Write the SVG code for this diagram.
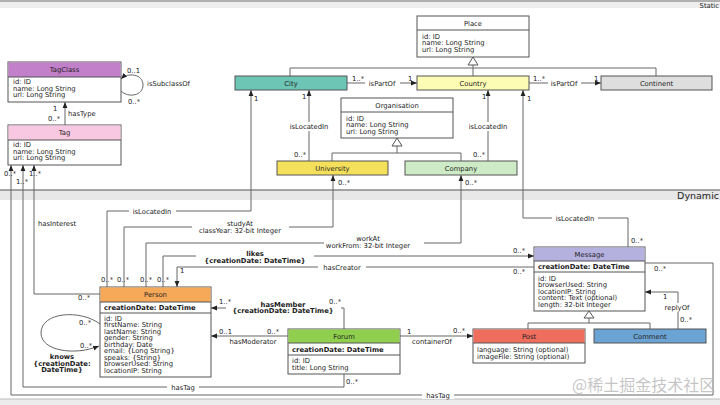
<svg xmlns="http://www.w3.org/2000/svg" width="720" height="405" viewBox="0 0 720 405">
<style>
.box{fill:#fff;stroke:#555;stroke-width:1}
.t{font-family:"DejaVu Sans","Liberation Sans",sans-serif;font-size:6.8px;fill:#222}
.b{font-weight:bold}
.c{text-anchor:middle}
.e{text-anchor:end}
.ln{fill:none;stroke:#666;stroke-width:1}
.arr{marker-end:url(#ah)}
.bg{fill:#fff}
.gen{fill:#fff;stroke:#555;stroke-width:1}
</style>
<defs>
<marker id="ah" viewBox="0 0 10 10" refX="10" refY="5" markerWidth="6" markerHeight="6" orient="auto" markerUnits="userSpaceOnUse">
<path d="M0,1 L10,5 L0,9 z" fill="#222"/>
</marker>
</defs>
<rect x="0" y="0" width="720" height="405" fill="#fff"/>
<g id="bands">
<rect x="0" y="0" width="720" height="2" fill="#b0b0b0"/>
<rect x="0" y="2" width="720" height="6" fill="#eeeeee"/>
<text class="t e" x="719" y="7.5" font-size="7">Static</text>
<rect x="0" y="190" width="720" height="10" fill="#e8e8e8"/>
<line x1="0" y1="190" x2="720" y2="190" stroke="#888" stroke-width="1.5"/>
<text class="t e" x="719" y="198.5" style="font-size:9.5px">Dynamic</text>
<rect x="0" y="399" width="720" height="6" fill="#ececec"/>
<line x1="0" y1="399" x2="720" y2="399" stroke="#bbb" stroke-width="1"/>
</g>
<g id="connectors">
<path class="ln arr" d="M121,91 C128,98 143,96 143,85 C143,74 128,72 121,79"/>
<path class="ln arr" d="M65,125 V102"/>
<path class="ln" d="M473,65 V68 M290,76 V68 H656 V76 M473,68 V76"/>
<polygon class="gen" points="473,57 468,65 478,65"/>
<path class="ln" d="M397,146 V153 M332,161 V153 H461 V161"/>
<polygon class="gen" points="397,138 392,146 402,146"/>
<path class="ln" d="M589,318 V323 M528,329 V323 H650 V329"/>
<polygon class="gen" points="589,311 584,318 594,318"/>
<path class="ln arr" d="M347,83 H417"/>
<path class="ln arr" d="M529,83 H601"/>
<path class="ln arr" d="M309,161 V90"/>
<path class="ln arr" d="M488,161 V90"/>
<path class="ln arr" d="M107,287 V211 H251 V90"/>
<path class="ln arr" d="M628,247 V218 H523 V90"/>
<path class="ln arr" d="M124,287 V227 H333 V175"/>
<path class="ln arr" d="M146,287 V243 H461 V175"/>
<path class="ln arr" d="M163,287 V256 H534"/>
<path class="ln arr" d="M534,267 H177 V287"/>
<path class="ln arr" d="M100,294 H34 V165"/>
<path class="ln arr" d="M100,324 C80,309 41,312 41,333 C41,351 75,356 99,346"/>
<path class="ln arr" d="M344,329 V308 H211"/>
<path class="ln arr" d="M288,336 H211"/>
<path class="ln arr" d="M400,336 H473"/>
<path class="ln arr" d="M678,329 V292 H645"/>
<path class="ln arr" d="M344,374 V387 H23 V165"/>
<path class="ln arr" d="M645,263 H713 V395 H11 V165"/>
<rect class="bg" x="365" y="79" width="35" height="9"/>
<rect class="bg" x="548" y="79" width="33" height="9"/>
<rect class="bg" x="286" y="122" width="46" height="9"/>
<rect class="bg" x="465" y="122" width="46" height="9"/>
<rect class="bg" x="129" y="207" width="47" height="9"/>
<rect class="bg" x="552" y="214" width="46" height="9"/>
<rect class="bg" x="192" y="218" width="97" height="16"/>
<rect class="bg" x="324" y="233" width="100" height="17"/>
<rect class="bg" x="196" y="248" width="118" height="17"/>
<rect class="bg" x="318" y="263" width="48" height="9"/>
<rect class="bg" x="226" y="299" width="115" height="16"/>
<rect class="bg" x="662" y="303" width="31" height="9"/>
<rect class="bg" x="167" y="383" width="32" height="9"/>
<rect class="bg" x="422" y="391" width="32" height="8"/>
</g>
<g id="labels">
<text class="t" x="127" y="73">0..1</text>
<text class="t" x="128" y="104">0..*</text>
<text class="t" x="147" y="86">isSubclassOf</text>
<text class="t" x="53" y="110.5">1</text>
<text class="t" x="48" y="121">0..*</text>
<text class="t" x="68" y="116">hasType</text>
<text class="t" x="4" y="176">0..*</text>
<text class="t" x="16" y="184">1..*</text>
<text class="t" x="29" y="176">1..*</text>
<text class="t" x="352" y="81">1..*</text>
<text class="t c" x="382" y="86">isPartOf</text>
<text class="t" x="408" y="81">1</text>
<text class="t" x="533" y="81">1..*</text>
<text class="t c" x="564" y="86">isPartOf</text>
<text class="t" x="594" y="81">1</text>
<text class="t" x="302" y="99">1</text>
<text class="t c" x="309" y="129">isLocatedIn</text>
<text class="t" x="294" y="157">0..*</text>
<text class="t" x="482" y="99">1</text>
<text class="t c" x="488" y="129">isLocatedIn</text>
<text class="t" x="473" y="157">0..*</text>
<text class="t" x="254" y="101">1</text>
<text class="t c" x="152" y="213.5">isLocatedIn</text>
<text class="t" x="527" y="101">1</text>
<text class="t c" x="575" y="220.5">isLocatedIn</text>
<text class="t" x="631" y="243">0..*</text>
<text class="t" x="338" y="185">0..*</text>
<text class="t" x="465" y="185">0..*</text>
<text class="t c" x="240" y="225.5">studyAt</text>
<text class="t c" x="240" y="232.5">classYear: 32-bit Integer</text>
<text class="t c" x="368" y="240.5">workAt</text>
<text class="t c" x="368" y="248">workFrom: 32-bit Integer</text>
<text class="t c b" x="255" y="256">likes</text>
<text class="t c b" x="255" y="263">{creationDate: DateTime}</text>
<text class="t" x="513" y="253">0..*</text>
<text class="t c" x="342" y="269.5">hasCreator</text>
<text class="t" x="513" y="274">0..*</text>
<text class="t" x="180" y="273">1</text>
<text class="t" x="101" y="282">0..*</text>
<text class="t" x="117" y="282">0..*</text>
<text class="t" x="140" y="282">0..*</text>
<text class="t" x="157" y="282">0..*</text>
<text class="t" x="38" y="226">hasInterest</text>
<text class="t" x="78" y="300">0..*</text>
<text class="t" x="79" y="325">0..*</text>
<text class="t" x="80" y="348">0..*</text>
<text class="t c b" x="62" y="359">knows</text>
<text class="t c b" x="62" y="365.5">{creationDate:</text>
<text class="t c b" x="62" y="372">DateTime}</text>
<text class="t" x="219" y="304">1..*</text>
<text class="t c b" x="283" y="306.5">hasMember</text>
<text class="t c b" x="283" y="313">{creationDate: DateTime}</text>
<text class="t" x="329" y="304">0..*</text>
<text class="t" x="219" y="334">0..1</text>
<text class="t" x="267" y="334">0..*</text>
<text class="t c" x="253" y="344">hasModerator</text>
<text class="t" x="407" y="334">1</text>
<text class="t" x="453" y="333">0..*</text>
<text class="t c" x="432" y="344">containerOf</text>
<text class="t" x="663" y="299">1</text>
<text class="t c" x="677" y="309.5">replyOf</text>
<text class="t" x="680" y="322">0..*</text>
<text class="t" x="654" y="271">0..*</text>
<text class="t" x="346" y="384">0..*</text>
<text class="t c" x="183" y="389.5">hasTag</text>
<text class="t c" x="438" y="397.5">hasTag</text>
</g>
<g id="TagClass">
<rect class="box" x="8" y="62" width="113" height="40"/>
<rect x="8.5" y="62.5" width="112" height="14.5" fill="#c27fca"/>
<line x1="8" y1="77" x2="121" y2="77" stroke="#555"/>
<text class="t c" x="64.5" y="72">TagClass</text>
<text class="t" x="13" y="84">id: ID</text>
<text class="t" x="13" y="90.6">name: Long String</text>
<text class="t" x="13" y="97.2">url: Long String</text>
</g>
<g id="Tag">
<rect class="box" x="8" y="125" width="113" height="40"/>
<rect x="8.5" y="125.5" width="112" height="14.5" fill="#f8c7e1"/>
<line x1="8" y1="140" x2="121" y2="140" stroke="#555"/>
<text class="t c" x="64.5" y="135">Tag</text>
<text class="t" x="13" y="147">id: ID</text>
<text class="t" x="13" y="153.6">name: Long String</text>
<text class="t" x="13" y="160.2">url: Long String</text>
</g>
<g id="Place">
<rect class="box" x="417" y="16" width="112" height="41"/>
<line x1="417" y1="30" x2="529" y2="30" stroke="#555"/>
<text class="t c" x="473" y="25.5">Place</text>
<text class="t" x="422" y="38.5">id: ID</text>
<text class="t" x="422" y="45">name: Long String</text>
<text class="t" x="422" y="51.5">url: Long String</text>
</g>
<g id="City">
<rect class="box" x="235" y="76" width="112" height="14" style="fill:#6dc5b5"/>
<text class="t c" x="291" y="85.5">City</text>
</g>
<g id="Country">
<rect class="box" x="417" y="76" width="112" height="14" style="fill:#fcfcb4"/>
<text class="t c" x="473" y="85.5">Country</text>
</g>
<g id="Continent">
<rect class="box" x="601" y="76" width="111" height="14" style="fill:#dedede"/>
<text class="t c" x="656.5" y="85.5">Continent</text>
</g>
<g id="Organisation">
<rect class="box" x="341" y="98" width="112" height="40"/>
<line x1="341" y1="112" x2="453" y2="112" stroke="#555"/>
<text class="t c" x="397" y="107.5">Organisation</text>
<text class="t" x="346" y="120.5">id: ID</text>
<text class="t" x="346" y="127">name: Long String</text>
<text class="t" x="346" y="133.5">url: Long String</text>
</g>
<g id="University">
<rect class="box" x="277" y="161" width="111" height="14" style="fill:#f5e05c"/>
<text class="t c" x="332.5" y="170.5">University</text>
</g>
<g id="Company">
<rect class="box" x="405" y="161" width="112" height="14" style="fill:#cdebc6"/>
<text class="t c" x="461" y="170.5">Company</text>
</g>
<g id="Person">
<rect class="box" x="100" y="287" width="111" height="90"/>
<rect x="100.5" y="287.5" width="110" height="14.5" fill="#f7a95a"/>
<line x1="100" y1="302" x2="211" y2="302" stroke="#555"/>
<line x1="100" y1="313" x2="211" y2="313" stroke="#555"/>
<text class="t c" x="155.5" y="297">Person</text>
<text class="t b" x="104" y="310">creationDate: DateTime</text>
<text class="t" x="104" y="320.5">id: ID</text>
<text class="t" x="104" y="327">firstName: String</text>
<text class="t" x="104" y="333.5">lastName: String</text>
<text class="t" x="104" y="340">gender: String</text>
<text class="t" x="104" y="346.5">birthday: Date</text>
<text class="t" x="104" y="353">email: {Long String}</text>
<text class="t" x="104" y="359.5">speaks: {String}</text>
<text class="t" x="104" y="366">browserUsed: String</text>
<text class="t" x="104" y="372.5">locationIP: String</text>
</g>
<g id="Forum">
<rect class="box" x="288" y="329" width="112" height="45"/>
<rect x="288.5" y="329.5" width="111" height="13.5" fill="#8fcf4d"/>
<line x1="288" y1="343" x2="400" y2="343" stroke="#555"/>
<line x1="288" y1="355" x2="400" y2="355" stroke="#555"/>
<text class="t c" x="344" y="338.5">Forum</text>
<text class="t b" x="292" y="352">creationDate: DateTime</text>
<text class="t" x="292" y="363">id: ID</text>
<text class="t" x="292" y="369.7">title: Long String</text>
</g>
<g id="Message">
<rect class="box" x="534" y="247" width="111" height="64"/>
<rect x="534.5" y="247.5" width="110" height="13.5" fill="#b5b1df"/>
<line x1="534" y1="261" x2="645" y2="261" stroke="#555"/>
<line x1="534" y1="272" x2="645" y2="272" stroke="#555"/>
<text class="t c" x="589.5" y="256.5">Message</text>
<text class="t b" x="538" y="269">creationDate: DateTime</text>
<text class="t" x="538" y="280.5">id: ID</text>
<text class="t" x="538" y="287">browserUsed: String</text>
<text class="t" x="538" y="293.5">locationIP: String</text>
<text class="t" x="538" y="300">content: Text (optional)</text>
<text class="t" x="538" y="306.5">length: 32-bit Integer</text>
</g>
<g id="Post">
<rect class="box" x="473" y="329" width="112" height="34"/>
<rect x="473.5" y="329.5" width="111" height="13.5" fill="#ef6e5e"/>
<line x1="473" y1="343" x2="585" y2="343" stroke="#555"/>
<text class="t c" x="529" y="338.5">Post</text>
<text class="t" x="477" y="351.5">language: String (optional)</text>
<text class="t" x="477" y="358.5">imageFile: String (optional)</text>
</g>
<g id="Comment">
<rect class="box" x="594" y="329" width="112" height="14" style="fill:#6ba3d3"/>
<text class="t c" x="650" y="338.5">Comment</text>
</g>
<text x="572" y="391" font-family="'Noto Sans CJK SC',sans-serif" font-size="16" fill="#bbbbbb" fill-opacity="0.85">@稀土掘金技术社区</text>
</svg>
